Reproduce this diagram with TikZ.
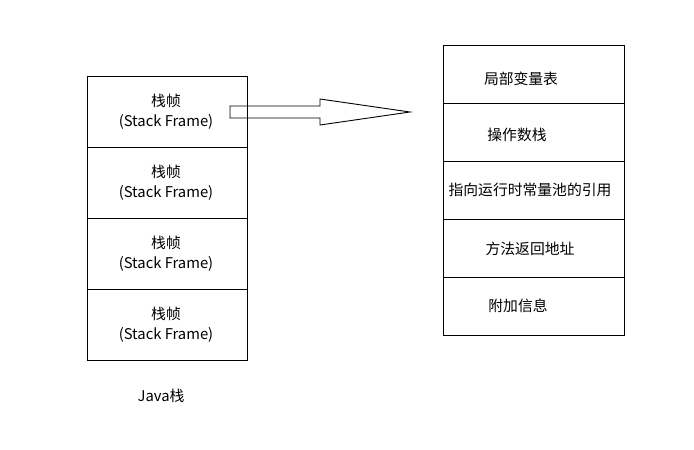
\documentclass[tikz,border=0pt]{standalone}
\usepackage{fontspec}
\setmainfont{Noto Sans CJK SC}
\usetikzlibrary{positioning}
\usetikzlibrary{calc}

\tikzset{
  frame/.style={draw=black, line width=0.9pt, minimum width=160pt, minimum height=71pt, inner sep=0pt, outer sep=0pt},
  slot/.style={draw=black, line width=0.9pt, minimum width=181pt, minimum height=58pt, inner sep=0pt, outer sep=0pt},
  txt/.style={font=\fontsize{14.8}{20}\selectfont, align=center, inner sep=0pt}
}

\begin{document}
\begin{tikzpicture}[x=1pt, y=-1pt]
            \useasboundingbox (0,0) rectangle (694,450);

            % Java stack
            \node[frame] (f1) at (167,111.5) {};
            \node[frame, below=0pt of f1] (f2) {};
            \node[frame, below=0pt of f2] (f3) {};
            \node[frame, below=0pt of f3] (f4) {};
            \foreach \f in {f1,f2,f3,f4}
                \node[txt] at ($(\f.center)+(-1,0)$) {栈帧\\(Stack Frame)};
            \node[txt] (java) at (161,396) {Java栈};

            % stack frame contents
            \node[slot] (s1) at (533.5,74.5) {};
            \node[slot, below=0pt of s1] (s2) {};
            \node[slot, below=0pt of s2] (s3) {};
            \node[slot, below=0pt of s3] (s4) {};
            \node[slot, below=0pt of s4] (s5) {};
            \node[txt] (t1) at (521,79) {局部变量表};
            \node[txt] (t2) at (517,135) {操作数栈};
            \node[txt] (t3) at (530,190) {指向运行时常量池的引用};
            \node[txt] (t4) at (530,249) {方法返回地址};
            \node[txt] (t5) at (518,306) {附加信息};

            % block arrow
            \draw[black, line width=0.9pt] (230,106) -- (320,106) -- (320,99) -- (410,112)
                -- (320,125) -- (320,118) -- (230,118) -- cycle;
\end{tikzpicture}
\end{document}
